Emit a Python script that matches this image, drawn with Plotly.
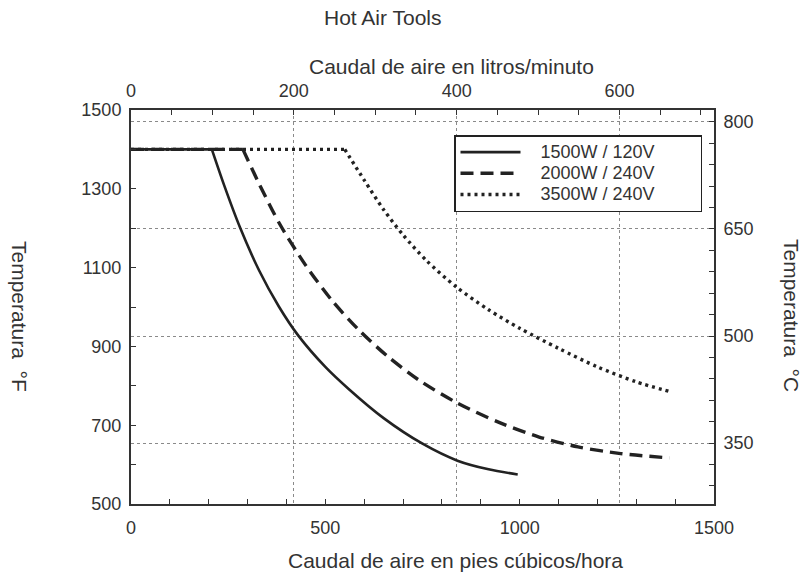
import plotly.graph_objects as go

# ---- data (x: pies cúbicos/hora, y: °F) ----
s1_x = [0, 208, 240, 280, 330, 380, 430, 500, 560, 650, 750, 840, 920, 995]
s1_y = [1400, 1400, 1308, 1203, 1092, 1002, 928, 848, 792, 718, 653, 610, 588, 575]

s2_x = [0, 288, 330, 383, 450, 520, 590, 660, 740, 840, 950, 1050, 1150, 1260, 1386]
s2_y = [1400, 1400, 1312, 1210, 1105, 1013, 938, 875, 815, 756, 706, 670, 645, 628, 617]

s3_x = [0, 550, 600, 650, 700, 760, 838, 920, 1000, 1100, 1200, 1300, 1391]
s3_y = [1400, 1400, 1322, 1247, 1183, 1118, 1050, 993, 946, 895, 848, 810, 784]

names = ["1500W / 120V", "2000W / 240V", "3500W / 240V"]

x_ticks = [0, 500, 1000, 1500]
y_ticks = [500, 700, 900, 1100, 1300, 1500]
top_ticks = [0, 200, 400, 600]
right_ticks = [350, 500, 650, 800]

FONT = "Liberation Sans, Arial, sans-serif"
INK = "#222"
TXT = "#333"
NB = "\u00a0"

styles = [
    dict(color=INK, width=2.6),
    dict(color=INK, width=3.4, dash="13px,7px"),
    dict(color=INK, width=3.4, dash="3px,4px"),
]

fig = go.Figure()
for i, (xs, ys) in enumerate([(s1_x, s1_y), (s2_x, s2_y), (s3_x, s3_y)]):
    k = 1  # index of the knee (end of the flat part)
    label = '<span style="font-size:18px">' + NB * 3 + names[i] + NB * 8 + "</span>"
    fig.add_trace(go.Scatter(x=xs[:k + 1], y=ys[:k + 1], mode="lines",
                             name=label, legendgroup=str(i),
                             line=dict(**styles[i])))
    fig.add_trace(go.Scatter(x=xs[k:], y=ys[k:], mode="lines",
                             legendgroup=str(i), showlegend=False,
                             line=dict(shape="spline", smoothing=0.8, **styles[i])))

# register the secondary (top / right) axes
fig.add_trace(go.Scatter(x=[], y=[], xaxis="x2", yaxis="y2", showlegend=False))

grid = dict(showgrid=True, gridcolor="#8a8a8a", gridwidth=1.3, griddash="3px,3px")
axline = dict(showline=True, linecolor="#333", linewidth=2, zeroline=False,
              ticks="inside", ticklen=5, tickcolor="#333", tickwidth=1,
              tickfont=dict(family=FONT, size=18, color=TXT))

fig.update_layout(
    width=803, height=574,
    paper_bgcolor="white", plot_bgcolor="white",
    margin=dict(l=131, r=89, t=110, b=70),
    font=dict(family=FONT, size=18, color=TXT),
    xaxis=dict(range=[0, 1500], tickvals=x_ticks, showgrid=False, ticklabelstandoff=6,
               minor=dict(dtick=100, ticks="inside", ticklen=5, tickcolor="#333"),
               **axline),
    xaxis2=dict(range=[0, 716], tickvals=top_ticks, overlaying="x", side="top",
                ticklabelstandoff=4,
                minor=dict(dtick=50, ticks="inside", ticklen=5, tickcolor="#333"),
                **grid, **axline),
    yaxis=dict(range=[500, 1500], tickvals=y_ticks, showgrid=False, ticklabelstandoff=4,
               minor=dict(dtick=100, ticks="inside", ticklen=5, tickcolor="#333"),
               **axline),
    yaxis2=dict(range=[264.5, 816.8], tickvals=right_ticks, overlaying="y", side="right",
                ticklabelstandoff=4,
                minor=dict(tick0=350, dtick=30, ticks="inside", ticklen=5, tickcolor="#333"),
                **grid, **axline),
    legend=dict(x=(454 - 131) / 583, y=(504 - 135) / 394, xanchor="left", yanchor="top",
                bgcolor="white", bordercolor="#222", borderwidth=1.5,
                font=dict(family=FONT, size=14, color=TXT),
                itemwidth=60, tracegroupgap=0),
    showlegend=True,
)

def px_ann(text, x, y, angle=0, size=22):
    fig.add_annotation(text=text, xref="paper", yref="paper",
                       x=(x - 131) / 583, y=(504 - y) / 394,
                       xanchor="center", yanchor="middle", textangle=angle,
                       showarrow=False, font=dict(family=FONT, size=size, color=TXT))

px_ann("Hot Air Tools", 383, 18, size=21)
px_ann("Caudal de aire en litros/minuto", 451, 67, size=21)
px_ann("Caudal de aire en pies cúbicos/hora", 455, 560, size=21)
px_ann("Temperatura" + NB * 2 + "°F", 20, 316, angle=90, size=21)
px_ann("Temperatura" + NB * 2 + "°C", 792, 316, angle=90, size=21)

fig.write_html("out.html", config={"displayModeBar": False},
               post_script="document.body.style.margin='0px';")
